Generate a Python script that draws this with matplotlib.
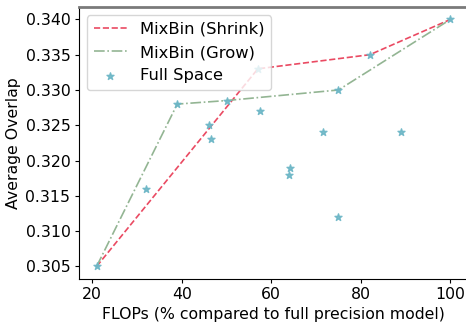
import matplotlib
matplotlib.use("Agg")
import matplotlib.pyplot as plt

shrink_x = [21, 57, 82, 100]
shrink_y = [0.305, 0.333, 0.335, 0.340]
grow_x = [21, 39, 50, 75, 100]
grow_y = [0.305, 0.328, 0.3285, 0.330, 0.340]
full_x = [21, 32, 39, 46, 46.5, 50, 57, 57.5, 64, 64.2, 71.5, 75, 75, 82, 89, 100]
full_y = [0.305, 0.316, 0.328, 0.325, 0.323, 0.3285, 0.333, 0.327, 0.318, 0.319,
          0.324, 0.312, 0.330, 0.335, 0.324, 0.340]

fs = 11.3
fig = plt.figure(figsize=(4.66, 3.22), dpi=100)
ax = fig.add_axes([0.1695, 0.1345, 0.835, 0.8435])
ax.plot(shrink_x, shrink_y, linestyle='--', color='#ea4a62', lw=1.2, label='MixBin (Shrink)')
ax.plot(grow_x, grow_y, linestyle='-.', color='#93b593', lw=1.2, label='MixBin (Grow)')
ax.scatter(full_x, full_y, marker='*', color='#6cb6c6', s=28, alpha=0.9, label='Full Space', zorder=3)
ax.set_xlabel('FLOPs (% compared to full precision model)', fontsize=fs, labelpad=3.5)
ax.set_ylabel('Average Overlap', fontsize=fs, labelpad=3.5)
ax.tick_params(labelsize=fs, length=3, pad=3.2)
ax.set_xticks([20, 40, 60, 80, 100])
ax.set_yticks([0.305, 0.310, 0.315, 0.320, 0.325, 0.330, 0.335, 0.340])
ax.spines['top'].set_color('#7a7a7a')
ax.spines['top'].set_linewidth(2)
ax.spines['right'].set_visible(False)
ax.legend(loc='upper left', fontsize=11.8)
fig.savefig('out.png', dpi=100)
